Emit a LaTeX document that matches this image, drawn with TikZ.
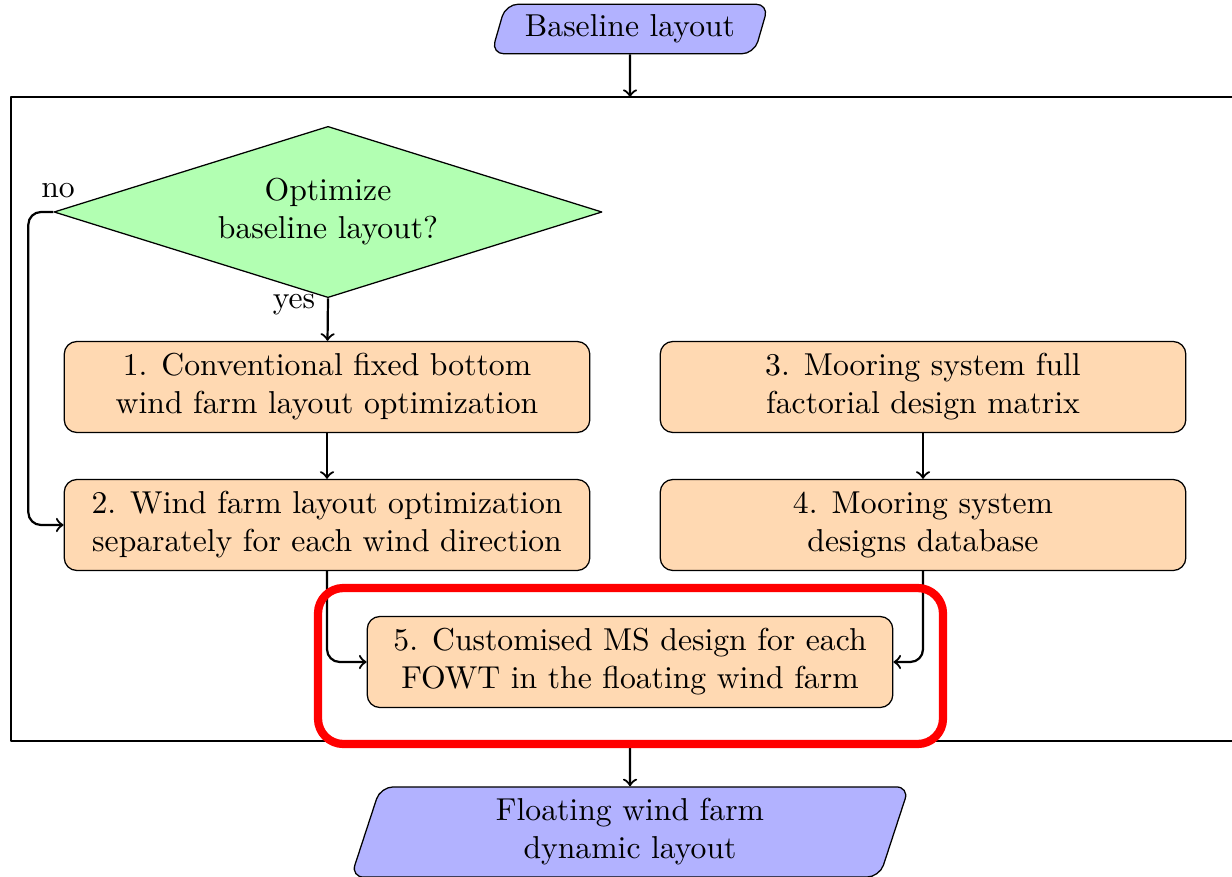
\documentclass[tikz,border=0pt]{standalone}
\usetikzlibrary{shapes.geometric}
\tikzset{
  io/.style={trapezium, trapezium left angle=75, trapezium right angle=105, trapezium stretches=true,
    draw, fill=blue!30, rounded corners=4pt, align=center},
  decision/.style={diamond, draw, fill=green!30, align=center, shape aspect=3.2,
    minimum width=6.08cm, minimum height=1.9cm, inner sep=1pt},
  process/.style={rectangle, draw, fill=orange!30, rounded corners=4pt, align=center,
    minimum width=5.83cm, minimum height=1.01cm},
  line/.style={draw, line width=0.7pt, ->, rounded corners=4pt},
}
\begin{document}
\begin{tikzpicture}[x=0.0111cm, y=-0.0111cm, line join=round]
				\clip (0,0) rectangle (1232,877);
				\node[io, minimum width=3.1cm, minimum height=0.53cm] (base) at (630,29) {Baseline layout};
				\draw (11,97) rectangle (1260,741);
				\coordinate (ftop) at (630,97);
				\coordinate (fbot) at (630,741);
				\node[decision] (opt) at (328,212) {Optimize\\baseline layout?};
				\node (nolbl) at (58,191) {no};
				\node (yeslbl) at (294,305) {yes};
				\node[process] (s1) at (327,387) {1.  Conventional fixed bottom\\wind farm layout optimization};
				\node[process] (s2) at (327,525) {2.  Wind farm layout optimization\\separately for each wind direction};
				\node[process] (s3) at (923,387) {3.  Mooring system full\\factorial design matrix};
				\node[process] (s4) at (923,525) {4.  Mooring system\\designs database};
				\node[process] (s5) at (630,662) {5.  Customised MS design for each\\FOWT in the floating wind farm};
				\node[io, trapezium left angle=79, trapezium right angle=101, minimum width=6.2cm, minimum height=1.0cm] (out) at (630,832) {Floating wind farm\\dynamic layout};
%				connectors
				\path[line] (base) -- (ftop);
				\path[line] (opt.south) -- (s1);
				\path[line] (opt.west) -- ++(-25,0) |- (s2.west);
				\path[line] (s1) -- (s2);
				\path[line] (s3) -- (s4);
				\path[line] (s2.south) |- (s5.west);
				\path[line] (s4.south) |- (s5.east);
				\path[line] (fbot) -- (out);
%				highlight
				\draw[red, line width=2.6pt, rounded corners=8pt] (318,588) rectangle (943,744);
			\end{tikzpicture}
\end{document}
